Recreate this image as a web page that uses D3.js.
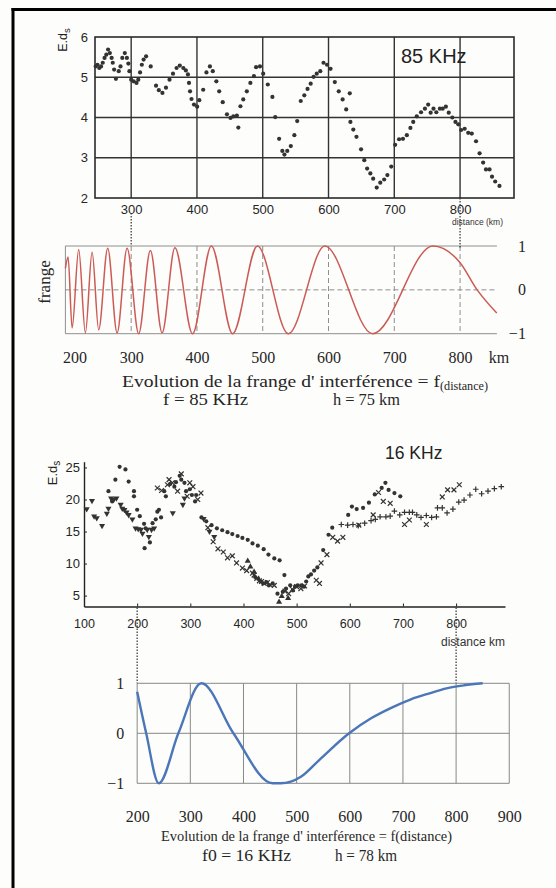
<!DOCTYPE html>
<html><head><meta charset="utf-8">
<script src="https://cdn.jsdelivr.net/npm/d3@7"></script>
<style>
html,body{margin:0;padding:0;background:#fdfdfb;}
svg{display:block;}
</style></head><body>
<svg id="fig" width="556" height="888"></svg>
<script>
// ---------- data ----------
// measured field E.ds versus distance (km), 85 KHz
const field85 = [
[246.1,5.27],[248.8,5.31],[251.5,5.23],[254.2,5.27],[256.8,5.36],[259.5,5.48],[262.2,5.56],[264.9,5.69],[267.6,5.60],[270.3,5.48],[272.0,5.36],[274.1,5.19],[276.8,4.96],[281.1,5.15],[283.8,5.27],[286.5,5.48],[290.3,5.60],[293.5,5.48],[295.7,5.34],[297.3,5.15],[300.0,4.94],[303.8,4.90],[308.1,4.86],[310.8,4.94],[313.5,5.12],[316.2,5.31],[318.9,5.44],[322.7,5.52],[329.7,5.27],[337.8,4.79],[342.1,4.68],[347.5,4.61],[352.9,4.74],[358.3,4.94],[363.6,5.09],[369.0,5.23],[373.9,5.29],[379.3,5.23],[383.1,5.17],[386.3,5.07],[387.9,4.86],[389.5,4.65],[391.7,4.46],[395.5,4.32],[400.3,4.27],[403.6,4.43],[409.5,4.69],[414.4,5.12],[419.7,5.27],[424.1,5.15],[429.5,4.90],[433.8,4.65],[439.2,4.38],[445.6,4.08],[451.0,3.99],[455.3,4.03],[460.7,4.05],[462.9,3.75],[466.1,4.28],[470.4,4.45],[475.8,4.65],[481.2,4.86],[486.6,5.03],[489.9,5.25],[495.8,5.27],[500.7,5.09],[507.7,4.82],[514.7,4.51],[519.0,4.01],[524.9,3.47],[529.8,3.17],[533.0,3.08],[537.3,3.17],[542.7,3.29],[548.1,3.56],[552.4,3.91],[557.8,4.41],[563.2,4.55],[568.1,4.71],[572.9,4.84],[577.3,5.01],[582.1,5.09],[587.5,5.15],[592.4,5.36],[597.7,5.31],[603.1,5.21],[609.6,4.88],[615.6,4.65],[621.5,4.45],[626.9,4.20],[632.3,4.60],[633.3,3.89],[637.7,3.70],[642.5,3.52],[649.5,3.21],[654.4,2.94],[658.7,2.73],[663.6,2.61],[667.9,2.48],[673.3,2.26],[678.7,2.38],[684.6,2.46],[689.5,2.57],[695.4,2.78],[701.3,3.32],[707.3,3.46],[713.2,3.47],[719.1,3.56],[724.5,3.74],[728.8,3.89],[734.2,4.03],[740.7,4.13],[746.6,4.22],[751.5,4.32],[755.3,4.12],[759.6,4.22],[763.9,4.13],[769.3,4.22],[773.6,4.22],[778.4,4.27],[782.8,4.12],[788.2,4.00],[793.0,3.89],[797.3,3.83],[801.6,3.69],[807.0,3.72],[812.4,3.62],[817.8,3.60],[824.3,3.41],[829.7,3.11],[835.1,2.88],[839.4,2.71],[844.8,2.71],[848.6,2.53],[853.4,2.41],[859.9,2.30]
];

// interference fringe, f = 85 KHz, h = 75 km (extrema)
const fringe85 = [
[200,0.49],[204.1,0.75],[210.2,-0.87],[220.2,0.92],[230.4,-0.98],[240.6,0.86],[250.6,-0.91],[264.3,0.95],[278.6,-0.98],[293.8,0.95],[311.4,-1],[329.2,0.9],[347,-0.98],[366.5,0.96],[393.3,-1],[421.9,1],[454.2,-1],[491.9,1],[538.9,-1],[594.4,1],[667,-1],[758.7,1],[800,0.62],[826,0],[855.8,-0.53]
];

// measured field E.ds versus distance (km), 16 KHz, four recordings
const field16Dot = [
[146,21.3],[153,19.7],[159,23.1],[167,25.1],[178,24.7],[184,22.8],[194,21.3],[194,20.5],[200,18.4],[205,17.4],[213,16.2],[214,12.4],[216,15.5],[224,13.3],[229,16.3],[235,16.9],[238,18.1],[241,18.4],[245,17.2],
[251,21.3],[254,20.5],[262,22.4],[270,22.0],[273,22.7],[280,23.7],[283,23.1],[289,22.6],[292,21.3],[299,21.6],[303,20.7],[309,19.7],[311,20.7],
[321,17.2],[330,16.6],[340,16.0],[350,15.5],[360,15.2],[370,14.9],[379,14.6],[389,14.3],[398,14.0],[408,13.7],[417,13.15],[427,12.8],[438,12.25],[447,11.4],[458,10.8],[468,10.5],[477,8.2],
[422,7.9],[428,7.6],[433,7.2],[437,6.9],[443,7.1],[448,6.6],[455,6.9],[464,5.3],[474,5.6],[480,6.1],[488,6.6],[493,5.8],[497,6.4],[502,6.6],[509,6.6],[514,6.4],[518,7.2],[522,8.0],[527,8.3],[533,8.9],[539,9.4],[550,12.1],[560,14.5],[567,15.6],
[597,17.6],[604,18.9],[613,18.5],[625,18.7],[636,19.5],[647,20.8],[660,21.8],[667,22.6],[673,21.5],[684,21.0],[695,20.5]
];
const field16Cross = [
[238,21.8],[246,21.4],[257,22.3],[260,23.1],[266,22.6],[276,21.3],[283,24.0],[294,20.5],[299,22.6],[305,22.0],[314,20.0],[320,21.0],
[333,15.6],[343,13.4],[352,12.3],[362,11.8],[370,10.9],[379,11.2],[387,10.1],[398,9.3],[406,8.9],[417,8.5],[420,8.2],[425,7.7],[430,7.3],[434,7.2],[439,6.9],[445,7.05],[450,6.7],[458,6.6],
[478,5.7],[485,5.3],[492,6.0],[500,6.4],[508,6.1],[515,6.5],[537,7.4],[543,6.9],[546,10.1],[557,11.4],[568,14.1],[577,13.5],[587,14.1],[617,16.0],[644,17.6],[654,21.1],[663,19.7],[676,19.4],[703,16.1],[712,16.8],[744,16.1],[774,20.4],[784,21.5],[796,21.5],[806,22.3]
];
const field16Plus = [
[584,16.1],[596,16.0],[606,16.1],[616,15.9],[628,16.3],[640,16.7],[648,16.9],[657,17.3],[668,17.3],[676,17.4],[684,18.2],[694,17.6],[703,18.0],[712,18.0],[718,18.0],[726,17.6],[734,17.2],[744,17.5],[754,17.2],[763,17.3],[765,18.7],[774,18.7],[783,17.9],[794,18.5],[805,19.6],[815,19.9],[826,20.7],[837,21.6],[848,20.9],[860,21.3],[872,21.7],[885,22.0]
];
const field16TriDown = [
[105,18.5],[115,19.8],[119,17.4],[124,17.1],[134,15.9],[143,17.8],[146,18.6],[151,20.2],[156,20.0],[161,20.2],[169,19.2],[172,18.6],[176,18.4],[180,18.0],[184,17.6],[191,16.9],[197,15.5],[202,15.4],[207,15.3],[210,14.7],[219,15.3],[222,14.2],[227,15.3],[232,15.5],[267,17.9],[286,19.2],[289,20.2],[325,17.0],[336,15.0],[345,14.2]
];
const field16TriUp = [
[408,10.4],[413,9.5],[420,8.7],[467,4.0],[472,4.9],[484,4.6]
];

// interference fringe, f0 = 16 KHz, h = 78 km
const fringe16 = [
[200,0.83],[217,0],[240.7,-1],[277.5,0],[320.8,1],[381,0],[454.7,-1],[470,-1],[508,-0.87],[541,-0.55],[598.7,0],[640,0.3],[680,0.52],[715,0.68],[750,0.8],[782,0.9],[815,0.96],[850,1.0]
];

// tick values
const xTicks85 = [300,400,500,600,700,800];
const yTicks85 = [2,3,4,5,6];
const xTicksFringe85 = [200,300,400,500,600,700,800];
const yTicksFringe = [-1,0,1];
const xTicks16 = [100,200,300,400,500,600,700,800];
const yTicks16 = [5,10,15,20,25];
const xTicksFringe16 = [200,300,400,500,600,700,800,900];

// ---------- drawing ----------
const SANS = "'Liberation Sans', Arial, sans-serif";
const SERIF = "'Liberation Serif', 'Times New Roman', serif";
const INK = "#262626";
const svg = d3.select("#fig");

// page frame (left and top edges)
svg.append("line").attr("x1",13).attr("x2",13).attr("y1",8).attr("y2",888).attr("stroke","#000").attr("stroke-width",3);
svg.append("line").attr("x1",11.5).attr("x2",556).attr("y1",9.5).attr("y2",9.5).attr("stroke","#000").attr("stroke-width",3);

function styleAxis(g, family, size){
  g.attr("font-family",family).attr("font-size",size);
  g.selectAll("text").attr("fill",INK);
}
function label(parent, x, y, txt, family, size, width){
  const t = parent.append("text").attr("x",x).attr("y",y)
    .attr("font-family",family).attr("font-size",size).attr("fill",INK).text(txt);
  if (width) t.attr("textLength",width).attr("lengthAdjust","spacingAndGlyphs");
  return t;
}

// ===== panel 1 : 85 KHz measurements =====
const xA = d3.scaleLinear().domain([245,882]).range([95,514]);
const yA = d3.scaleLinear().domain([2,6]).range([198,37]);
const pA = svg.append("g");
pA.selectAll("line.gh").data(yTicks85.slice(1,-1)).join("line")
  .attr("x1",xA.range()[0]).attr("x2",xA.range()[1])
  .attr("y1",d=>yA(d)).attr("y2",d=>yA(d))
  .attr("stroke","#333").attr("stroke-width",1.4);
pA.selectAll("line.gv").data(xTicks85).join("line")
  .attr("x1",d=>xA(d)).attr("x2",d=>xA(d))
  .attr("y1",yA.range()[1]).attr("y2",yA.range()[0])
  .attr("stroke","#333").attr("stroke-width",1.4);
pA.append("rect").attr("x",xA.range()[0]).attr("y",yA.range()[1])
  .attr("width",xA.range()[1]-xA.range()[0]).attr("height",yA.range()[0]-yA.range()[1])
  .attr("fill","none").attr("stroke","#2a2a2a").attr("stroke-width",1.6);
pA.append("g").attr("transform",`translate(${xA.range()[0]},0)`)
  .call(d3.axisLeft(yA).tickValues(yTicks85).tickFormat(d3.format("d")).tickSize(0).tickPadding(7))
  .call(g=>g.select(".domain").remove())
  .call(g=>styleAxis(g,SANS,13));
pA.append("g").attr("transform",`translate(0,${yA.range()[0]})`)
  .call(d3.axisBottom(xA).tickValues(xTicks85).tickSize(0).tickPadding(7))
  .call(g=>g.select(".domain").remove())
  .call(g=>styleAxis(g,SANS,13));
pA.selectAll("circle").data(field85).join("circle")
  .attr("cx",d=>xA(d[0])).attr("cy",d=>yA(d[1])).attr("r",2.1).attr("fill","#333");
pA.append("text").attr("x",401).attr("y",63).attr("font-family",SANS).attr("font-size",20).attr("fill","#222").text("85 KHz");
pA.append("text").attr("x",503).attr("y",225).attr("text-anchor","end").attr("font-family",SANS).attr("font-size",8.5).attr("fill","#333").text("distance (km)");
const la = pA.append("text").attr("transform","translate(67,40) rotate(-90)").attr("text-anchor","middle")
  .attr("font-family",SANS).attr("font-size",12.5).attr("fill","#222");
la.append("tspan").text("E.d");
la.append("tspan").attr("font-size",9.5).attr("dy",3).text("s");

// ===== panel 2 : 85 KHz fringe =====
const xB = d3.scaleLinear().domain([200,856]).range([xA(200),xA(856)]);
const yB = d3.scaleLinear().domain([-1,1]).range([333.7,246]);
const pB = svg.append("g");
pB.selectAll("line.h").data(yTicksFringe).join("line")
  .attr("x1",xB.range()[0]).attr("x2",xB.range()[1])
  .attr("y1",d=>yB(d)).attr("y2",d=>yB(d))
  .attr("stroke","#8e8e8e").attr("stroke-width",1)
  .attr("stroke-dasharray",d=>d===0?"5,3":null);
pB.selectAll("line.v").data(xTicksFringe85.slice(1)).join("line")
  .attr("x1",d=>xB(d)).attr("x2",d=>xB(d))
  .attr("y1",yB(1)).attr("y2",yB(-1))
  .attr("stroke","#8e8e8e").attr("stroke-width",1).attr("stroke-dasharray","5,3");
pB.append("line").attr("x1",xB(200)).attr("x2",xB(200)).attr("y1",yB(1)).attr("y2",yB(-1))
  .attr("stroke","#8e8e8e").attr("stroke-width",1);
pB.append("path").datum(fringe85)
  .attr("d",d3.line().x(d=>xB(d[0])).y(d=>yB(d[1])).curve(d3.curveMonotoneX))
  .attr("fill","none").attr("stroke","#cc5a55").attr("stroke-width",1.5);
const axB = pB.append("g").attr("transform",`translate(0,${yB(-1)})`)
  .call(d3.axisBottom(xB).tickValues(xTicksFringe85).tickSize(0).tickPadding(18))
  .call(g=>g.select(".domain").remove())
  .call(g=>styleAxis(g,SERIF,16));
axB.selectAll(".tick").filter(d=>d===200).select("text").attr("dx",9);
pB.append("text").attr("x",499).attr("y",363).attr("text-anchor","middle").attr("font-family",SERIF).attr("font-size",16).attr("fill",INK).text("km");
pB.append("g").attr("transform",`translate(${xB.range()[1]},0)`)
  .call(d3.axisRight(yB).tickValues(yTicksFringe).tickFormat(d3.format("d")).tickSize(0))
  .call(g=>g.select(".domain").remove())
  .call(g=>styleAxis(g,SERIF,16))
  .call(g=>g.selectAll("text").attr("text-anchor","end").attr("x",29));
pB.append("text").attr("transform","translate(50,282) rotate(-90)").attr("text-anchor","middle")
  .attr("font-family",SERIF).attr("font-size",17).attr("fill",INK).text("frange");
const capB = pB.append("text").attr("x",122).attr("y",387)
  .attr("font-family",SERIF).attr("font-size",17).attr("fill",INK);
capB.append("tspan").attr("textLength",318).attr("lengthAdjust","spacingAndGlyphs")
  .text("Evolution de la frange d' interférence = f");
capB.append("tspan").attr("font-size",11.5).attr("dy",3).attr("textLength",48).attr("lengthAdjust","spacingAndGlyphs")
  .text("(distance)");
label(pB,163,405,"f = 85 KHz",SERIF,16,85);
label(pB,333,405,"h = 75 km",SERIF,16,67);

// connectors between panel 1 and 2
svg.append("line").attr("x1",xA(300)).attr("x2",xA(300)).attr("y1",213).attr("y2",yB(1))
  .attr("stroke","#333").attr("stroke-width",1.2).attr("stroke-dasharray","1.5,1.5");
svg.append("line").attr("x1",xA(800)).attr("x2",xA(800)).attr("y1",yA(2)).attr("y2",yB(1)+2)
  .attr("stroke","#333").attr("stroke-width",1.2).attr("stroke-dasharray","1.5,1.5");

// ===== panel 3 : 16 KHz measurements =====
const xC = d3.scaleLinear().domain([100,892]).range([84,505]);
const yC = d3.scaleLinear().domain([3.3,25.9]).range([606.5,461.7]);
const pC = svg.append("g");
pC.append("g").attr("transform",`translate(${xC(100)},0)`)
  .call(d3.axisLeft(yC).tickValues(yTicks16).tickSizeInner(-3).tickSizeOuter(0).tickPadding(4))
  .call(g=>g.select(".domain").attr("stroke","#222").attr("stroke-width",1.4))
  .call(g=>g.selectAll("line").attr("stroke","#222"))
  .call(g=>styleAxis(g,SANS,13));
pC.append("g").attr("transform",`translate(0,${yC(3.3)})`)
  .call(d3.axisBottom(xC).tickValues(xTicks16).tickSizeInner(-3).tickSizeOuter(0).tickPadding(13))
  .call(g=>g.select(".domain").attr("stroke","#222").attr("stroke-width",1.6))
  .call(g=>g.selectAll("line").attr("stroke","#222"))
  .call(g=>styleAxis(g,SANS,12.5));
const mark = "#333";
pC.selectAll("circle.dot").data(field16Dot).join("circle")
  .attr("cx",d=>xC(d[0])).attr("cy",d=>yC(d[1])).attr("r",2.1).attr("fill",mark);
pC.selectAll("path.cross").data(field16Cross).join("path")
  .attr("d",d=>{const x=xC(d[0]),y=yC(d[1]),s=2.4;return `M${x-s},${y-s}L${x+s},${y+s}M${x-s},${y+s}L${x+s},${y-s}`;})
  .attr("stroke",mark).attr("stroke-width",1.2);
pC.selectAll("path.plus").data(field16Plus).join("path")
  .attr("d",d=>{const x=xC(d[0]),y=yC(d[1]),s=2.8;return `M${x-s},${y}L${x+s},${y}M${x},${y-s}L${x},${y+s}`;})
  .attr("stroke",mark).attr("stroke-width",1.2);
const tri = d3.symbol().type(d3.symbolTriangle).size(16);
pC.selectAll("path.tdown").data(field16TriDown).join("path")
  .attr("d",tri).attr("transform",d=>`translate(${xC(d[0])},${yC(d[1])}) rotate(180)`).attr("fill",mark);
pC.selectAll("path.tup").data(field16TriUp).join("path")
  .attr("d",tri).attr("transform",d=>`translate(${xC(d[0])},${yC(d[1])})`).attr("fill",mark);
pC.append("text").attr("x",385).attr("y",459).attr("font-family",SANS).attr("font-size",17.5).attr("fill","#222").text("16 KHz");
pC.append("text").attr("x",505).attr("y",646).attr("text-anchor","end").attr("font-family",SANS).attr("font-size",12).attr("fill","#333").text("distance km");
const lc = pC.append("text").attr("transform","translate(57,473) rotate(-90)").attr("text-anchor","middle")
  .attr("font-family",SANS).attr("font-size",13).attr("fill","#222");
lc.append("tspan").text("E.d");
lc.append("tspan").attr("font-size",10).attr("dy",3).text("s");

// ===== panel 4 : 16 KHz fringe =====
const xD = d3.scaleLinear().domain([200,900]).range([xC(200),xC(900)]);
const yD = d3.scaleLinear().domain([-1,1]).range([783.3,683.3]);
const pD = svg.append("g");
pD.selectAll("line.h").data(yTicksFringe).join("line")
  .attr("x1",xD(200)).attr("x2",xD(900)).attr("y1",d=>yD(d)).attr("y2",d=>yD(d))
  .attr("stroke","#888").attr("stroke-width",1);
pD.selectAll("line.v").data(xTicksFringe16).join("line")
  .attr("x1",d=>xD(d)).attr("x2",d=>xD(d)).attr("y1",yD(1)).attr("y2",yD(-1))
  .attr("stroke","#888").attr("stroke-width",1);
pD.append("path").datum(fringe16)
  .attr("d",d3.line().x(d=>xD(d[0])).y(d=>yD(d[1])).curve(d3.curveMonotoneX))
  .attr("fill","none").attr("stroke","#4b76b8").attr("stroke-width",2.4);
pD.append("g").attr("transform",`translate(${xD(200)},0)`)
  .call(d3.axisLeft(yD).tickValues(yTicksFringe).tickFormat(d3.format("d")).tickSize(0).tickPadding(13))
  .call(g=>g.select(".domain").remove())
  .call(g=>styleAxis(g,SERIF,16));
pD.append("g").attr("transform",`translate(0,${yD(-1)})`)
  .call(d3.axisBottom(xD).tickValues(xTicksFringe16).tickSize(0).tickPadding(27))
  .call(g=>g.select(".domain").remove())
  .call(g=>styleAxis(g,SERIF,16));
label(pD,161,841,"Evolution de la frange d' interférence = f(distance)",SERIF,15.5,291);
label(pD,202,861,"f0 = 16 KHz",SERIF,16,89);
label(pD,335,861,"h = 78 km",SERIF,16,62);

// connectors between panel 3 and 4
[200,800].forEach(v=>{
  svg.append("line").attr("x1",xC(v)).attr("x2",xC(v)).attr("y1",yC(3.3)+1).attr("y2",yD(1))
    .attr("stroke","#333").attr("stroke-width",1.2).attr("stroke-dasharray","1.5,1.5");
});
</script></body></html>
